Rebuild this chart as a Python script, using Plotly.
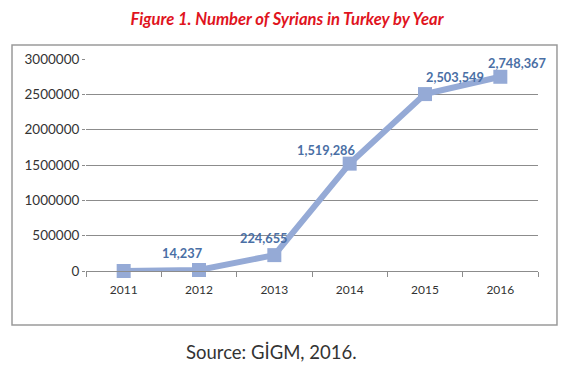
import plotly.graph_objects as go

years = ["2011", "2012", "2013", "2014", "2015", "2016"]
values = [0, 14237, 224655, 1519286, 2503549, 2748367]
labels = ["", "14,237", "224,655", "1,519,286", "2,503,549", "2,748,367"]
label_dx = [0, -17, -10, -24, 30, 17]
label_dy = [0, -17, -17, -14, -17, -14]
y_ticks = [0, 500000, 1000000, 1500000, 2000000, 2500000, 3000000]

line_color = "#95AAD6"
label_color = "#4A6FA5"

xpos = list(range(len(years)))

fig = go.Figure()
fig.add_trace(go.Scatter(
    x=xpos, y=values, mode="lines+markers",
    line=dict(color=line_color, width=6),
    marker=dict(symbol="square", size=14, color=line_color),
    cliponaxis=False, showlegend=False, hoverinfo="skip",
))

for x, y, t, dx, dy in zip(xpos, values, labels, label_dx, label_dy):
    if t:
        fig.add_annotation(x=x, y=y, text="<b>" + t + "</b>", showarrow=False,
                           xshift=dx, yshift=-dy,
                           font=dict(family="Lato", size=12.8, color=label_color))

fig.update_layout(
    width=570, height=373,
    margin=dict(l=86, r=32, t=59, b=102),
    paper_bgcolor="white", plot_bgcolor="white",
    title=dict(text="<b><i>Figure 1. Number of Syrians in Turkey by Year</i></b>",
               x=287 / 570, xref="container", xanchor="center", y=1 - 19 / 373, yanchor="middle",
               font=dict(family="Lato", size=16.6, color="#E0141E")),
    font=dict(family="Lato", size=12, color="#333333"),
)
fig.update_xaxes(range=[-0.5, len(years) - 0.5], tickvals=xpos, ticktext=years,
                 ticks="", showline=True, linecolor="#8c8c8c", linewidth=1,
                 showgrid=False, zeroline=False, tickfont=dict(size=12, color="#333333"),
                 ticklabelstandoff=8,
                 minor=dict(tickvals=[i - 0.5 for i in range(len(years) + 1)],
                            ticks="outside", ticklen=5, tickcolor="#8c8c8c", showgrid=False))
fig.update_yaxes(range=[0, 3000000], tickvals=y_ticks, tickformat="d",
                 showgrid=True, gridcolor="#8c8c8c", gridwidth=1, zeroline=False,
                 ticks="outside", ticklen=3, tickcolor="#8c8c8c",
                 tickfont=dict(size=13.5, color="#333333"))

fig.add_shape(type="rect", xref="paper", yref="paper",
              x0=-0.1637, x1=1.042, y0=-0.255, y1=1.066,
              line=dict(color="#9a9a9a", width=1.5))

fig.add_annotation(text="Source: GİGM, 2016.", xref="paper", yref="paper",
                   x=(271 - 86) / 452, y=(271 - 352) / 212, yanchor="middle", xanchor="center",
                   showarrow=False,
                   font=dict(family="Lato", size=18.5, color="#333333"))

fig.write_html("out.html", config={"displayModeBar": False},
               post_script="document.body.style.margin='0';document.body.style.padding='0';")
